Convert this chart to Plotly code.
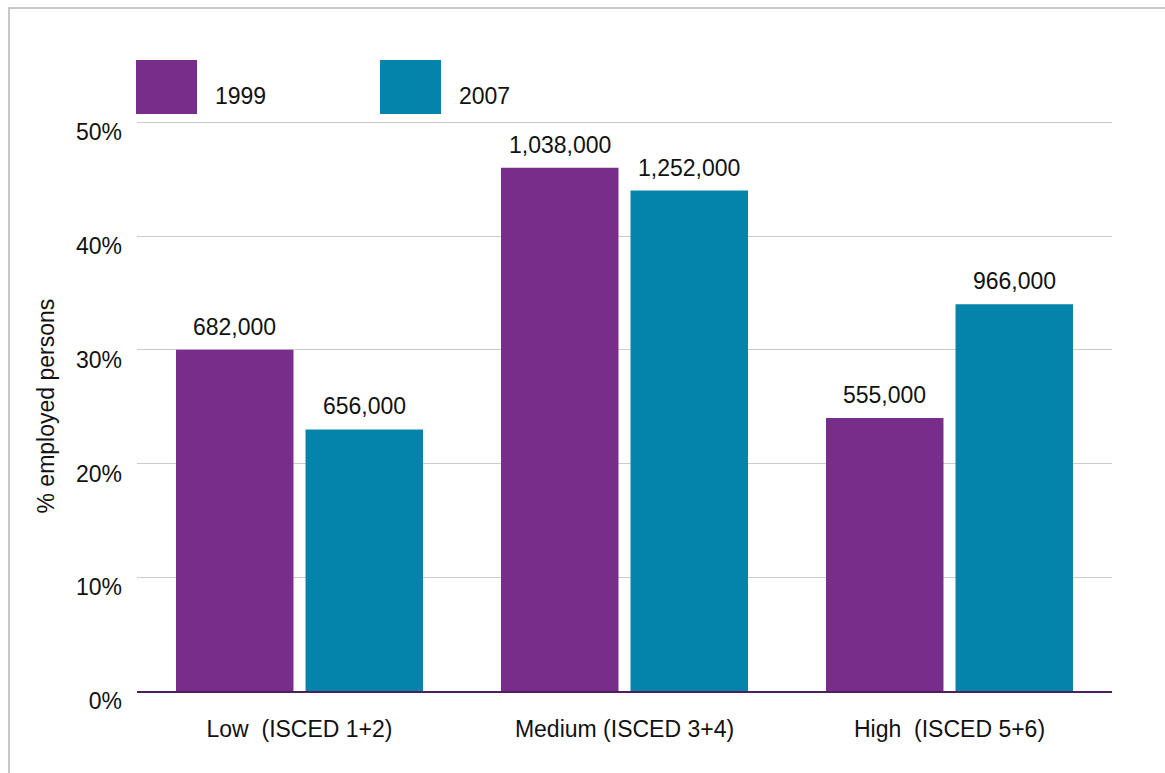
import plotly.graph_objects as go

# Employed persons by education level
categories = ["Low\u00a0\u00a0(ISCED 1+2)", "Medium (ISCED 3+4)", "High\u00a0\u00a0(ISCED 5+6)"]
years = ["1999", "2007"]
share_1999 = [30, 46, 24]          # % of employed persons
share_2007 = [23, 44, 34]
persons_1999 = ["682,000", "1,038,000", "555,000"]
persons_2007 = ["656,000", "1,252,000", "966,000"]
y_ticks = [0, 10, 20, 30, 40, 50]

PURPLE = "#782D8B"
TEAL = "#0484AB"
FONT = "Liberation Sans, Arial, Helvetica, sans-serif"
FS = 23
BARGAP = 0.203
GROUPGAP = 0.093

W, H = 1165, 773
ML, MR, MT, MB = 137, 53, 122, 82
PW, PH = W - ML - MR, H - MT - MB


def px_x(px):
    return (px - ML) / PW


def px_y(py):
    return (H - MB - py) / PH


fig = go.Figure()
fig.add_trace(go.Bar(x=categories, y=share_1999, name=years[0],
                     marker=dict(color=PURPLE, line=dict(width=0))))
fig.add_trace(go.Bar(x=categories, y=share_2007, name=years[1],
                     marker=dict(color=TEAL, line=dict(width=0))))

# value labels above each bar
half = (1 - BARGAP) / 4
annotations = []
for i in range(len(categories)):
    for off, val, txt in ((-half, share_1999[i], persons_1999[i]),
                          (half, share_2007[i], persons_2007[i])):
        annotations.append(dict(x=i + off, y=val, xref="x", yref="y", text=txt,
                                showarrow=False, yanchor="middle", yshift=23,
                                font=dict(size=FS, color="#111111", family=FONT)))

# y axis title
annotations.append(dict(x=px_x(45), y=0.5, xref="paper", yref="paper",
                        text="% employed persons", textangle=-90, showarrow=False,
                        xanchor="center", yanchor="middle",
                        font=dict(size=FS, color="#111111", family=FONT)))

# legend: large swatches with labels
shapes = []
for (x0, x1, tx), name, col in zip(((136, 197, 213), (380, 441, 457)), years, (PURPLE, TEAL)):
    shapes.append(dict(type="rect", xref="paper", yref="paper",
                       x0=px_x(x0), x1=px_x(x1), y0=px_y(114), y1=px_y(60),
                       fillcolor=col, line=dict(width=0)))
    annotations.append(dict(x=px_x(tx), y=px_y(96), xref="paper", yref="paper",
                            text=name, showarrow=False, xanchor="left", yanchor="middle",
                            font=dict(size=FS, color="#111111", family=FONT)))

# top gridline at the upper end of the value axis
shapes.append(dict(type="line", xref="paper", yref="y", x0=0, x1=1,
                   y0=y_ticks[-1], y1=y_ticks[-1],
                   line=dict(color="#CCCCCC", width=1.5), layer="below"))

# outer frame
shapes.append(dict(type="rect", xref="paper", yref="paper",
                   x0=px_x(9), x1=px_x(1200), y0=px_y(820), y1=px_y(8),
                   line=dict(color="#C8C8C8", width=2), fillcolor="rgba(0,0,0,0)",
                   layer="below"))

fig.update_layout(
    width=W, height=H,
    margin=dict(l=ML, r=MR, t=MT, b=MB),
    paper_bgcolor="white", plot_bgcolor="white",
    barmode="group", bargap=BARGAP, bargroupgap=GROUPGAP,
    showlegend=False,
    font=dict(family=FONT, size=FS, color="#111111"),
    annotations=annotations, shapes=shapes,
    xaxis=dict(showgrid=False, showline=True, linecolor="#4E1E60", linewidth=2,
               ticks="", ticklabelstandoff=16, tickfont=dict(size=FS),
               zeroline=False),
    yaxis=dict(range=[0, 50.03], tickvals=y_ticks, ticktext=[f"{v}%" for v in y_ticks],
               showgrid=True, gridcolor="#CCCCCC", gridwidth=1,
               showline=False, zeroline=False, ticks="",
               ticklabelstandoff=14, ticklabelshift=10, tickfont=dict(size=FS)),
)

fig.write_html("out.html")
